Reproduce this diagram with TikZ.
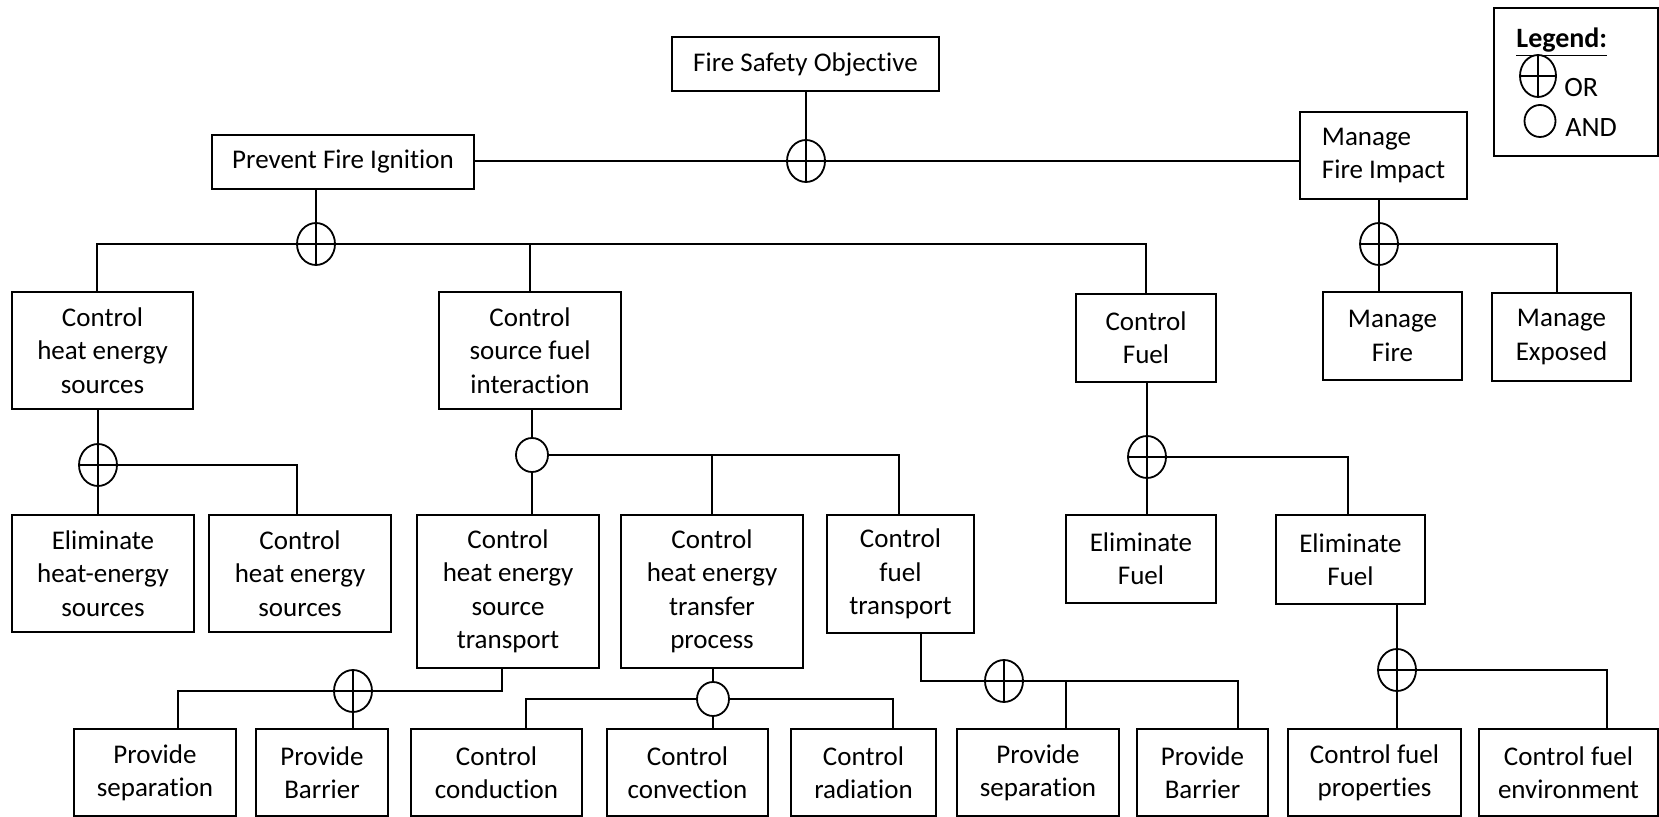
\documentclass[tikz,border=0pt]{standalone}
\usepackage{fontspec}
\setmainfont{Carlito}[Ligatures=NoCommon]
\usetikzlibrary{shapes.geometric}

\tikzset{
  box/.style={draw,line width=0.9pt,align=center,inner sep=0pt,font=\fontsize{13.5}{16.7}\selectfont},
  orgate/.style={ellipse,draw,line width=0.9pt,fill=white,minimum width=19pt,minimum height=21pt,inner sep=0pt,
    path picture={\draw[line width=0.9pt] (path picture bounding box.north) -- (path picture bounding box.south)
      (path picture bounding box.west) -- (path picture bounding box.east);}},
  andgate/.style={ellipse,draw,line width=0.9pt,fill=white,minimum width=16pt,minimum height=17pt,inner sep=0pt},
  link/.style={line width=0.9pt},
  legtext/.style={anchor=west,inner sep=0pt,font=\fontsize{14}{16}\selectfont}
}

\begin{document}
\begin{tikzpicture}[x=0.5pt,y=-0.5pt]
    \useasboundingbox (0,0) rectangle (1659,817);

    % top levels
    \node[box,minimum width=133.5pt,minimum height=27pt] (obj) at (805.5,64) {Fire Safety Objective};
    \node[box,minimum width=131pt,minimum height=27pt] (pfi) at (343,162) {Prevent Fire Ignition};
    \node[box,align=left,minimum width=83.5pt,minimum height=43.5pt] (mfi) at (1383.5,155.5) {Manage\\Fire Impact};

    \node[box,minimum width=90.5pt,minimum height=58.5pt] (chs1) at (102.5,350.5) {Control\\heat energy\\sources};
    \node[box,minimum width=91pt,minimum height=58.5pt] (csfi) at (530,350.5) {Control\\source fuel\\interaction};
    \node[box,minimum width=70pt,minimum height=44pt] (cf) at (1146,338) {Control\\Fuel};
    \node[box,minimum width=69.5pt,minimum height=44pt] (mf) at (1392.5,336) {Manage\\Fire};
    \node[box,minimum width=69.5pt,minimum height=44pt] (me) at (1561.5,337) {Manage\\Exposed};

    \node[box,minimum width=91pt,minimum height=58.5pt] (ehs) at (103,573.5) {Eliminate\\heat-energy\\sources};
    \node[box,minimum width=91pt,minimum height=58.5pt] (chs2) at (300,573.5) {Control\\heat energy\\sources};
    \node[box,minimum width=91pt,minimum height=76.5pt] (chst) at (508,591.5) {Control\\heat energy\\source\\transport};
    \node[box,minimum width=91pt,minimum height=76.5pt] (chtp) at (712,591.5) {Control\\heat energy\\transfer\\process};
    \node[box,minimum width=73.5pt,minimum height=59pt] (cft) at (900.5,574) {Control\\fuel\\transport};
    \node[box,minimum width=75pt,minimum height=44pt] (ef1) at (1141,559) {Eliminate\\Fuel};
    \node[box,minimum width=74.5pt,minimum height=44.5pt] (ef2) at (1350.5,559.5) {Eliminate\\Fuel};

    % bottom row
    \node[box,minimum width=81pt,minimum height=43.5pt] (ps1) at (155,772.5) {Provide\\separation};
    \node[box,minimum width=66pt,minimum height=43.5pt] (pb1) at (322,772.5) {Provide\\Barrier};
    \node[box,minimum width=85.5pt,minimum height=43.5pt] (ccond) at (496.5,772.5) {Control\\conduction};
    \node[box,minimum width=80.5pt,minimum height=43.5pt] (cconv) at (687.5,772.5) {Control\\convection};
    \node[box,minimum width=72.5pt,minimum height=43.5pt] (crad) at (863.5,772.5) {Control\\radiation};
    \node[box,minimum width=81pt,minimum height=43.5pt] (ps2) at (1038,772.5) {Provide\\separation};
    \node[box,minimum width=65.5pt,minimum height=43.5pt] (pb2) at (1202.5,772.5) {Provide\\Barrier};
    \node[box,minimum width=86.5pt,minimum height=43.5pt] (cfp) at (1374.5,772.5) {Control fuel\\properties};
    \node[box,minimum width=89.5pt,minimum height=43.5pt] (cfe) at (1568.5,772.5) {Control fuel\\environment};

    % gates
    \node[orgate] (g0) at (806,161) {};
    \node[orgate] (g1) at (316,244) {};
    \node[orgate] (g2) at (1379,244) {};
    \node[orgate] (g3) at (98,465) {};
    \node[andgate] (g4) at (532,455) {};
    \node[orgate] (g5) at (1147,457) {};
    \node[orgate] (g6) at (353,691) {};
    \node[andgate] (g7) at (713,699) {};
    \node[orgate] (g8) at (1004,681) {};
    \node[orgate] (g9) at (1397,670) {};

    \draw[link] (g0 |- obj.south) -- (g0.north);
    \draw[link] (pfi.east |- g0) -- (g0.west);
    \draw[link] (g0.east) -- (mfi.west |- g0);

    \draw[link] (g1 |- pfi.south) -- (g1.north);
    \draw[link] (g1.west) -| ([xshift=-2.75pt]chs1.north);
    \draw[link] (g1.east) -| (cf.north);
    \draw[link] (csfi.north) -- (csfi.north |- g1);

    \draw[link] (mfi.south -| g2) -- (g2.north);
    \draw[link] (g2.south) -- (g2 |- mf.north);
    \draw[link] (g2.east) -| ([xshift=-2.25pt]me.north);

    \draw[link] (chs1.south -| g3) -- (g3.north);
    \draw[link] (g3.south) -- (g3 |- ehs.north);
    \draw[link] (g3.east) -| ([xshift=-1.5pt]chs2.north);

    \draw[link] (csfi.south -| g4) -- (g4.north);
    \draw[link] (g4.south) -- (g4 |- chst.north);
    \draw[link] (g4.east) -| ([xshift=-0.75pt]cft.north);
    \draw[link] (chtp.north) -- (chtp.north |- g4);

    \draw[link] (cf.south -| g5) -- (g5.north);
    \draw[link] (g5.south) -- (g5 |- ef1.north);
    \draw[link] (g5.east) -| ([xshift=-1.25pt]ef2.north);

    \draw[link] ([xshift=-3pt]chst.south) |- (g6.east);
    \draw[link] (g6.west) -| ([xshift=11.5pt]ps1.north);
    \draw[link] (g6.south) -- (g6 |- pb1.north);

    \draw[link] (chtp.south -| g7) -- (g7.north);
    \draw[link] (g7.west) -| ([xshift=14.75pt]ccond.north);
    \draw[link] (g7.east) -| ([xshift=14.75pt]crad.north);
    \draw[link] (g7.south) -- (g7 |- cconv.north);

    \draw[link] ([xshift=10.25pt]cft.south) |- (g8.west);
    \draw[link] (g8.east) -| ([xshift=17.75pt]pb2.north);
    \draw[link] ([xshift=14pt]ps2.north) |- (g8.east);

    \draw[link] (ef2.south -| g9) -- (g9.north);
    \draw[link] (g9.south) -- (g9 |- cfp.north);
    \draw[link] (g9.east) -| ([xshift=19.25pt]cfe.north);

    % legend
    \node[draw,line width=0.9pt,minimum width=82pt,minimum height=74pt,inner sep=0pt] (legend) at (1576,82) {};
    \node[legtext,font=\fontsize{14}{16}\selectfont\bfseries] (legtitle) at (1516,42) {\underline{Legend:}};
    \node[orgate,minimum width=18pt,minimum height=21pt] (legor) at (1538,76) {};
    \node[legtext] (ortext) at (1564,88) {OR};
    \node[andgate,minimum width=15.5pt,minimum height=16pt] (legand) at (1540,121) {};
    \node[legtext] (andtext) at (1565,128) {AND};
\end{tikzpicture}
\end{document}
